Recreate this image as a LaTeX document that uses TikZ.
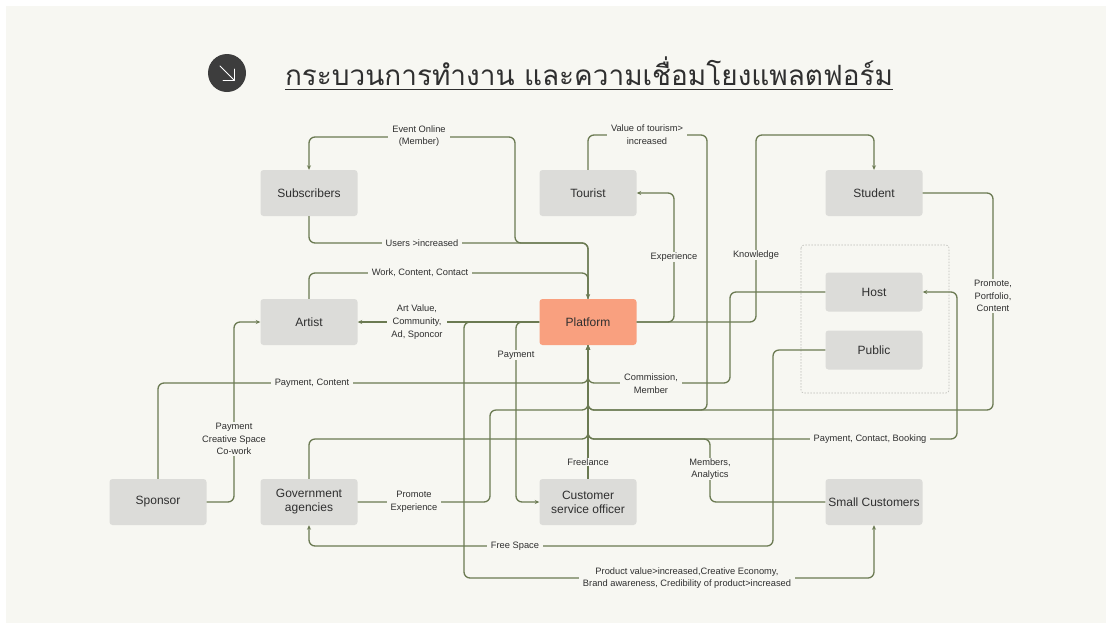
\documentclass[tikz,border=0pt]{standalone}
\usepackage{fontspec}
\setmainfont{Liberation Sans}
\newfontfamily\thaifont[Script=Thai]{Loma}
\usetikzlibrary{arrows.meta}
\definecolor{bgc}{HTML}{F7F7F2}
\definecolor{boxc}{HTML}{DCDCD9}
\definecolor{platc}{HTML}{F9A07F}
\definecolor{linec}{HTML}{6B7A52}
\definecolor{txtc}{HTML}{2F2F2F}
\definecolor{iconc}{HTML}{3D3D3D}
\definecolor{dashc}{HTML}{BDBDB8}
\begin{document}
\begin{tikzpicture}[x=1pt,y=-1pt,
  box/.style={fill=boxc, rounded corners=3pt, minimum width=97pt, minimum height=46pt, inner sep=0pt, align=center, text=txtc, font=\fontsize{12}{14}\selectfont},
  smallbox/.style={box, minimum height=39pt},
  conn/.style={draw=linec, line width=1.3pt, rounded corners=6pt, -{Stealth[length=4.5pt,width=4pt]}},
  lbl/.style={fill=bgc, inner xsep=4pt, inner ysep=0.5pt, align=center, text=txtc, font=\fontsize{9.3}{12.8}\selectfont},
]
\useasboundingbox (0,0) rectangle (1108,625);
\fill[white] (0,0) rectangle (1108,625);
\fill[bgc] (6,6) rectangle (1106,623);

% title
\node[circle, fill=iconc, minimum size=38pt, inner sep=0pt] (icon) at (227,73) {};
\draw[white, line width=0.9pt, line cap=round, line join=round] (220,66) -- (234,80);
\draw[white, line width=0.9pt, line cap=round, line join=round] (223,80) -- (234,80) -- (234,69);
\node[text=txtc, inner sep=0pt, anchor=center] (title) at (589,74) {\resizebox{608pt}{!}{\thaifont\underline{กระบวนการทำงาน และความเชื่อมโยงแพลตฟอร์ม}}};

% dashed group
\draw[dashc, line width=0.6pt, dash pattern=on 1.5pt off 1.5pt, rounded corners=3pt] (801,245) rectangle (949,393);

% boxes
\node[box] (sub) at (309,193) {Subscribers};
\node[box] (tour) at (588,193) {Tourist};
\node[box] (stu) at (874,193) {Student};
\node[box] (art) at (309,322) {Artist};
\node[box, fill=platc] (plat) at (588,322) {Platform};
\node[smallbox] (host) at (874,292) {Host};
\node[smallbox] (pub) at (874,350) {Public};
\node[box] (spon) at (158,502) {Sponsor};
\node[box] (gov) at (309,502) {Government\\agencies};
\node[box] (cso) at (588,502) {Customer\\service officer};
\node[box] (sc) at (874,502) {Small Customers};

% connectors
\draw[conn] (sub.south) -- (309,243) -- (588,243) -- (plat.north);
\draw[conn] (plat.north) -- (588,243) -- (515,243) -- (515,137) -- (309,137) -- (sub.north);
\draw[conn] (art.north) -- (309,273) -- (588,273) -- (plat.north);
\draw[conn] (plat.west) -- (art.east);
\draw[conn] (plat.west) -- (516,322) -- (516,502) -- (cso.west);
\draw[conn] (plat.west) -- (464,322) -- (464,578) -- (874,578) -- (sc.south);
\draw[conn] (plat.east) -- (674,322) -- (674,193) -- (tour.east);
\draw[conn] (plat.east) -- (756,322) -- (756,135) -- (874,135) -- (stu.north);
\draw[conn] (tour.north) -- (588,135) -- (707,135) -- (707,410) -- (588,410) -- (plat.south);
\draw[conn] (stu.east) -- (993,193) -- (993,410) -- (588,410) -- (plat.south);
\draw[conn] (gov.east) -- (490,502) -- (490,410) -- (588,410) -- (plat.south);
\draw[conn] (host.west) -- (730,292) -- (730,383) -- (588,383) -- (plat.south);
\draw[conn] (spon.north) -- (158,383) -- (588,383) -- (plat.south);
\draw[conn] (spon.east) -- (234,502) -- (234,322) -- (art.west);
\draw[conn] (gov.north) -- (309,439) -- (588,439) -- (plat.south);
\draw[conn] (sc.west) -- (710,502) -- (710,439) -- (588,439) -- (plat.south);
\draw[conn] (cso.north) -- (plat.south);
\draw[conn] (plat.south) -- (588,439) -- (957,439) -- (957,292) -- (host.east);
\draw[conn] (pub.west) -- (773,350) -- (773,546) -- (309,546) -- (gov.south);

% labels
\node[lbl] (lEvent) at (419,136) {Event Online\\(Member)};
\node[lbl] (lUsers) at (422,243) {Users >increased};
\node[lbl] (lValue) at (647,135) {Value of tourism>\\increased};
\node[lbl] (lWork) at (420,273) {Work, Content, Contact};
\node[lbl] (lArt) at (417,322) {Art Value,\\Community,\\Ad, Sponcor};
\node[lbl] (lPay) at (516,355) {Payment};
\node[lbl] (lExp) at (674,257) {Experience};
\node[lbl] (lKnow) at (756,255) {Knowledge};
\node[lbl] (lProm) at (993,296) {Promote,\\Portfolio,\\Content};
\node[lbl] (lPC) at (312,383) {Payment, Content};
\node[lbl] (lComm) at (651,384) {Commission,\\Member};
\node[lbl] (lSpon) at (234,439) {Payment\\Creative Space\\Co-work};
\node[lbl] (lPE) at (414,502) {Promote\\Experience};
\node[lbl] (lFree) at (515,546) {Free Space};
\node[lbl] (lFl) at (588,462) {Freelance};
\node[lbl] (lMem) at (710,469) {Members,\\Analytics};
\node[lbl] (lPCB) at (870,439) {Payment, Contact, Booking};
\node[lbl] (lProd) at (687,578) {Product value>increased,Creative Economy,\\Brand awareness, Credibility of product>increased};
\end{tikzpicture}
\end{document}
